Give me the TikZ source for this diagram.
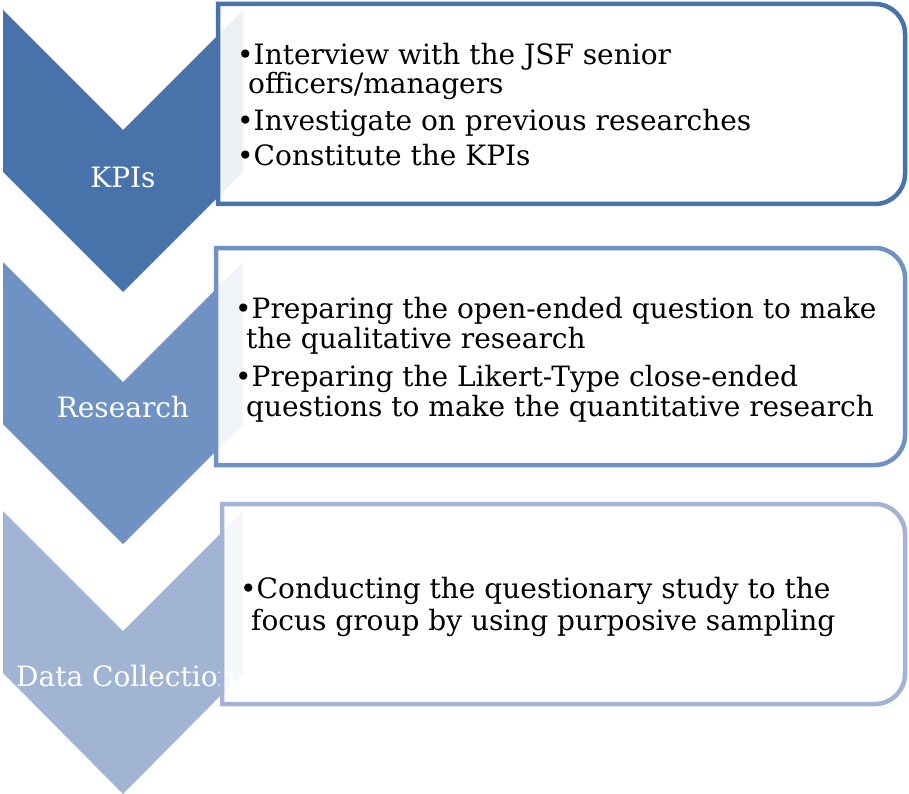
\documentclass[tikz,border=0pt]{standalone}
\usepackage{fontspec}
\setmainfont{DejaVu Serif}
\usepackage{tikz}

\definecolor{chevA}{RGB}{72,115,170}
\definecolor{chevB}{RGB}{112,146,194}
\definecolor{chevC}{RGB}{162,180,212}

\tikzset{
  chev/.style={fill=#1, draw=none},
  listbox/.style={draw=#1, line width=4.5pt, fill=white, fill opacity=0.9},
  steptitle/.style={text=white, anchor=base, inner sep=0pt, font=\fontsize{28}{32}\selectfont},
  itemline/.style={anchor=base west, inner sep=0pt, font=\fontsize{28}{32}\selectfont}
}

\begin{document}
\begin{tikzpicture}[x=1pt, y=-1pt]
		\useasboundingbox (0,0) rectangle (909,794);
		% KPIs
		\fill[chev=chevA] (3,10) -- (123,130) -- (243,10) -- (243,172) -- (123,292) -- (3,172) -- cycle;
		\node[steptitle] (kpi) at (123,188) {KPIs};
		\draw[listbox=chevA] (218,4) -- (875,4) arc[start angle=-90, end angle=0, radius=30] -- (905,174) arc[start angle=0, end angle=90, radius=30] -- (218,204) -- cycle;
		\node[itemline] (kpiA) at (237,65) {•Interview with the JSF senior};
		\node[itemline] (kpiB) at (248,94) {officers/managers};
		\node[itemline] (kpiC) at (237,131) {•Investigate on previous researches};
		\node[itemline] (kpiD) at (237,166) {•Constitute the KPIs};
		% Research
		\fill[chev=chevB] (3,262) -- (123,382) -- (243,262) -- (243,424) -- (123,544) -- (3,424) -- cycle;
		\node[steptitle] (res) at (123,417) {Research};
		\draw[listbox=chevB] (216,248) -- (875,248) arc[start angle=-90, end angle=0, radius=30] -- (905,435) arc[start angle=0, end angle=90, radius=30] -- (216,465) -- cycle;
		\node[itemline] (resA) at (235,318) {•Preparing the open-ended question to make};
		\node[itemline] (resB) at (246,348) {the qualitative research};
		\node[itemline] (resC) at (235,386) {•Preparing the Likert-Type close-ended};
		\node[itemline] (resD) at (246,416) {questions to make the quantitative research};
		% Data Collection
		\fill[chev=chevC] (3,511) -- (123,631) -- (243,511) -- (243,673) -- (123,794) -- (3,673) -- cycle;
		\node[steptitle, anchor=base west] (dat) at (16,686) {Data Collection};
		\draw[listbox=chevC] (222,504) -- (875,504) arc[start angle=-90, end angle=0, radius=30] -- (905,674) arc[start angle=0, end angle=90, radius=30] -- (222,704) -- cycle;
		\node[itemline] (datA) at (240,598) {•Conducting the questionary study to the};
		\node[itemline] (datB) at (251,630) {focus group by using purposive sampling};
\end{tikzpicture}
\end{document}
